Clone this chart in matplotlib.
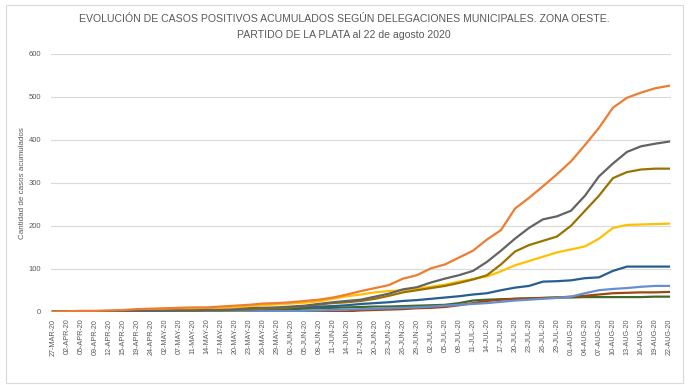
import matplotlib
matplotlib.use('Agg')
import matplotlib.pyplot as plt
from matplotlib.patches import Rectangle

# etiquetas del eje x (una cada 3 fechas de reporte)
fechas = ['27-MAR-20', '02-APR-20', '05-APR-20', '09-APR-20', '12-APR-20', '15-APR-20',
          '19-APR-20', '24-APR-20', '02-MAY-20', '07-MAY-20', '11-MAY-20', '14-MAY-20',
          '17-MAY-20', '20-MAY-20', '23-MAY-20', '26-MAY-20', '29-MAY-20', '02-JUN-20',
          '05-JUN-20', '08-JUN-20', '11-JUN-20', '14-JUN-20', '17-JUN-20', '20-JUN-20',
          '23-JUN-20', '26-JUN-20', '29-JUN-20', '02-JUL-20', '05-JUL-20', '08-JUL-20',
          '11-JUL-20', '14-JUL-20', '17-JUL-20', '20-JUL-20', '23-JUL-20', '26-JUL-20',
          '29-JUL-20', '01-AUG-20', '04-AUG-20', '07-AUG-20', '10-AUG-20', '13-AUG-20',
          '16-AUG-20', '19-AUG-20', '22-AUG-20']

naranja = [0, 1, 2, 2, 3, 4, 6, 7, 8, 9, 10, 10, 12, 14, 16, 19, 20, 22, 25, 28, 33, 40, 48,
           55, 62, 77, 85, 101, 110, 126, 142, 168, 190, 240, 265, 292, 320, 350, 388, 428,
           475, 498, 510, 520, 526]
gris = [0, 0, 0, 1, 1, 1, 2, 2, 2, 3, 3, 4, 4, 5, 8, 9, 10, 12, 14, 18, 22, 25, 28, 35, 42,
        52, 57, 68, 77, 85, 95, 116, 142, 170, 195, 215, 222, 235, 270, 315, 345, 372, 385,
        391, 396]
oliva = [0, 0, 0, 0, 0, 1, 1, 1, 2, 2, 2, 3, 3, 4, 5, 7, 8, 10, 13, 17, 20, 22, 25, 30, 37,
         45, 50, 55, 60, 67, 75, 85, 110, 140, 155, 165, 175, 200, 235, 270, 311, 325, 331,
         333, 333]
amarillo = [0, 0, 1, 1, 2, 2, 3, 4, 5, 5, 6, 7, 8, 10, 12, 15, 17, 19, 21, 24, 30, 36, 40,
            45, 48, 50, 54, 58, 63, 70, 76, 82, 94, 108, 118, 128, 138, 145, 152, 170, 195,
            202, 203, 204, 205]
azul = [1, 1, 1, 1, 1, 2, 2, 2, 3, 3, 3, 4, 4, 5, 6, 7, 8, 9, 11, 12, 13, 15, 18, 20, 22,
        25, 27, 30, 33, 36, 40, 43, 50, 56, 60, 70, 71, 73, 78, 80, 95, 105, 105, 105, 105]
celeste = [0, 0, 0, 0, 0, 0, 0, 0, 0, 0, 0, 0, 1, 1, 1, 1, 1, 1, 2, 3, 4, 5, 6, 7, 8, 9,
           10, 12, 14, 16, 18, 20, 23, 26, 28, 30, 32, 35, 43, 50, 53, 55, 58, 60, 60]
marron = [0, 0, 0, 0, 0, 0, 0, 0, 0, 0, 0, 0, 0, 0, 0, 0, 0, 0, 0, 0, 0, 1, 3, 4, 5, 6, 8,
          9, 11, 15, 20, 25, 28, 30, 31, 32, 33, 35, 37, 40, 43, 44, 45, 45, 46]
verde = [0, 0, 0, 0, 0, 0, 1, 1, 1, 1, 2, 2, 2, 3, 3, 4, 5, 6, 7, 8, 9, 10, 11, 12, 12, 13,
         14, 15, 16, 20, 26, 28, 29, 30, 31, 32, 33, 33, 34, 34, 34, 34, 34, 35, 35]

series = [
    (verde, '#43682B'),
    (marron, '#9E480E'),
    (celeste, '#698ED0'),
    (azul, '#255E91'),
    (amarillo, '#FFC000'),
    (oliva, '#997300'),
    (gris, '#636363'),
    (naranja, '#ED7D31'),
]

plt.rcParams['font.family'] = ['Liberation Sans', 'DejaVu Sans']
texto = '#595959'

fig = plt.figure(figsize=(6.96, 3.85), dpi=100)
ax = fig.add_axes([0.0728, 0.1904, 0.8917, 0.6694])

# eje categorico: 133 fechas de reporte, una etiqueta cada 3
pos = [3 * i for i in range(len(fechas))]
for valores, color in series:
    ax.plot(pos, valores, color=color, lw=1.6, solid_joinstyle='round')

ax.set_xlim(-0.5, 3 * (len(fechas) - 1) + 0.5)
ax.set_ylim(0, 600)
ax.set_yticks(range(0, 601, 100))
ax.set_xticks(pos)
ax.set_xticklabels(fechas, rotation=90, fontsize=5.2, color=texto)
ax.tick_params(axis='y', labelsize=5.5, labelcolor=texto, length=0, pad=7)
ax.tick_params(axis='x', length=0, pad=5)
ax.grid(axis='y', color='#D9D9D9', lw=0.8)
ax.set_axisbelow(True)
for s in ax.spines.values():
    s.set_visible(False)

fig.text(23 / 696, 0.525, 'Cantidad de casos acumulados', rotation=90,
         ha='center', va='center', fontsize=5.8, color=texto)
fig.text(344 / 696, 1 - 19 / 385,
         'EVOLUCIÓN DE CASOS POSITIVOS ACUMULADOS SEGÚN DELEGACIONES MUNICIPALES. ZONA OESTE.',
         ha='center', va='center', fontsize=7.6, color=texto)
fig.text(344 / 696, 1 - 35 / 385, 'PARTIDO DE LA PLATA al 22 de agosto 2020',
         ha='center', va='center', fontsize=7.6, color=texto)

# marco del grafico
fig.patches.append(Rectangle((6 / 696, 2 / 385), 677 / 696, 378 / 385,
                             transform=fig.transFigure, fill=False,
                             edgecolor='#D9D9D9', lw=0.8))

fig.savefig('out.png', dpi=100)
